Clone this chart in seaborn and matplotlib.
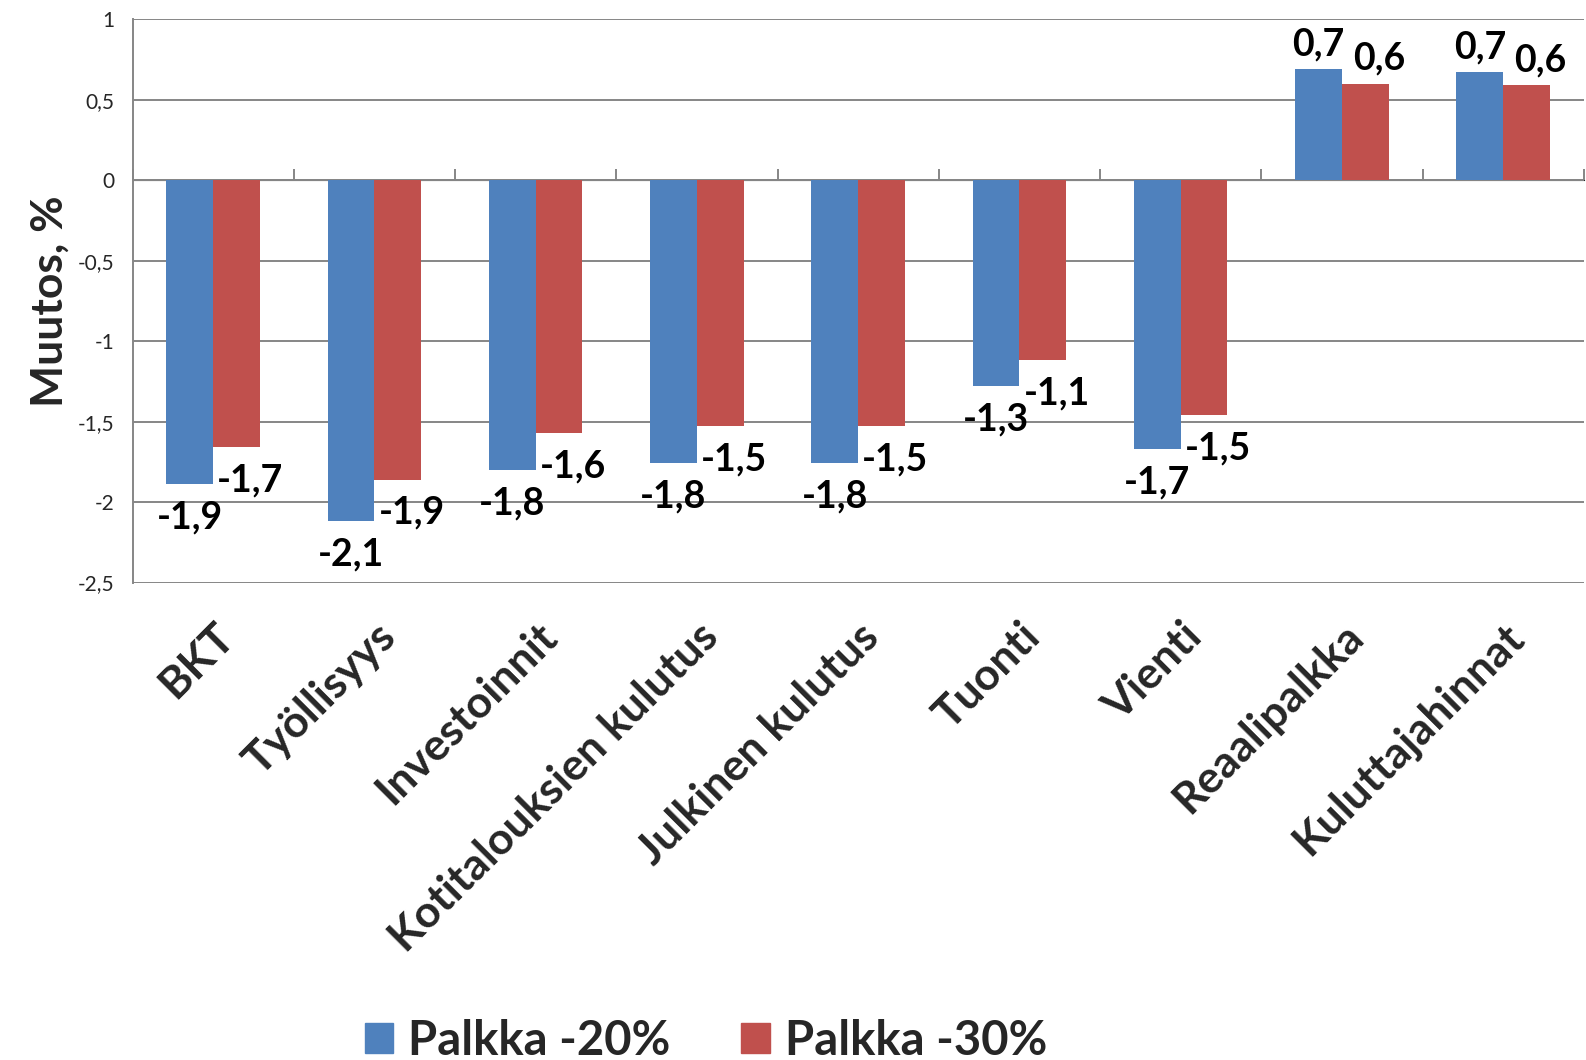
import numpy as np
import pandas as pd
import seaborn as sns
import matplotlib.pyplot as plt
from matplotlib.ticker import FuncFormatter

# Data
categories = ["BKT", "Työllisyys", "Investoinnit", "Kotitalouksien kulutus",
              "Julkinen kulutus", "Tuonti", "Vienti", "Reaalipalkka", "Kuluttajahinnat"]
palkka_20 = [-1.89, -2.12, -1.80, -1.76, -1.76, -1.28, -1.67, 0.69, 0.67]
palkka_30 = [-1.66, -1.86, -1.57, -1.53, -1.53, -1.12, -1.46, 0.60, 0.59]
series_names = ["Palkka -20%", "Palkka -30%"]
colors = ["#4F81BD", "#C0504D"]

df = pd.DataFrame({
    "kategoria": categories * 2,
    "arvo": palkka_20 + palkka_30,
    "sarja": [series_names[0]] * len(categories) + [series_names[1]] * len(categories),
})

sns.set_style("white")
plt.rcParams["font.family"] = ["Lato", "DejaVu Sans"]

fig = plt.figure(figsize=(15.86, 10.6), dpi=100)
ax = fig.add_axes([0.0836, 0.4504, 0.915, 0.5315])

sns.barplot(data=df, x="kategoria", y="arvo", hue="sarja", palette=colors,
            width=0.58, saturation=1, errorbar=None, ax=ax, linewidth=0)

grid_col = "#868686"
ax.set_ylim(-2.5, 1)
ax.set_xlim(-0.5, len(categories) - 0.5)
ax.set_yticks(np.arange(-2.5, 1.01, 0.5))
ax.yaxis.set_major_formatter(FuncFormatter(lambda v, p: f"{v:g}".replace(".", ",")))
ax.yaxis.grid(True, color=grid_col, linewidth=1.4)
ax.set_axisbelow(True)
for s in ["top", "right", "bottom"]:
    ax.spines[s].set_visible(False)
ax.spines["left"].set_color(grid_col)
ax.spines["left"].set_linewidth(1.4)
ax.tick_params(axis="y", length=7, width=1.4, color=grid_col, labelsize=15, pad=6)
ax.tick_params(axis="x", length=0, pad=24)

# zero axis line with category dividers
ax.axhline(0, color=grid_col, linewidth=1.4, zorder=0.5)
sec = ax.secondary_xaxis(2.5 / 3.5)
sec.set_xticks(np.arange(-0.5, len(categories), 1.0))
sec.set_xticklabels([])
sec.spines["bottom"].set_visible(False)
sec.tick_params(axis="x", direction="out", length=8, width=1.4, color=grid_col)

ax.set_xticks(range(len(categories)))
ax.set_xticklabels(categories, rotation=45, ha="right", va="top",
                   rotation_mode="anchor", fontsize=32, fontweight="bold")
ax.set_xlabel("")
ax.set_ylabel("Muutos, %", fontsize=32, fontweight="bold", labelpad=6)

# data labels
for i, cont in enumerate(ax.containers):
    for bar in cont:
        h = bar.get_height()
        xc = bar.get_x() + bar.get_width() / 2
        dx = 0 if i == 0 else 10
        dy = -24 if h < 0 else 18
        ax.annotate(f"{h:.1f}".replace(".", ","), (xc, h), xytext=(dx, dy),
                    textcoords="offset points", ha="center", va="center",
                    fontsize=27, fontweight="bold", color="black")

ax.legend_.remove()
handles = [plt.Rectangle((0, 0), 1, 1, color=c) for c in colors]
fig.legend(handles, series_names, loc="center", bbox_to_anchor=(0.445, 0.018),
           ncol=2, frameon=False, prop={"size": 34, "weight": "bold"},
           handlelength=0.6, handleheight=0.6, columnspacing=1.5, handletextpad=0.32)

fig.savefig("out.png", dpi=100)
